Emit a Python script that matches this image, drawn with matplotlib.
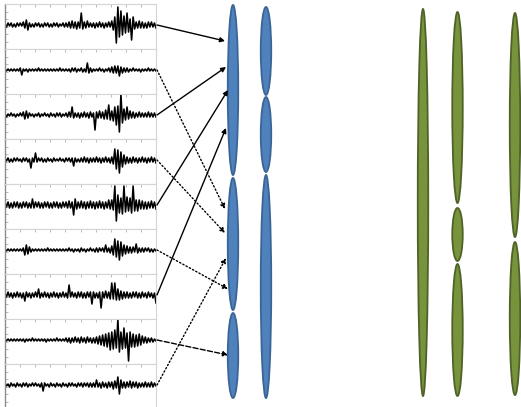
import matplotlib
matplotlib.use("Agg")
import matplotlib.pyplot as plt
from matplotlib.patches import Ellipse
import numpy as np

# ---------------- data: nine noisy traces (pixel-ish amplitudes) ----------------
trace1 = [1,-2,2,-1,2,-2,1,-2,2,-1, 2,-1,3,-3,5,-5,2,-2,1,-2, 2,-1,2,-2,1,-2,2,-1,2,-2,
          1,-2,2,-1,2,-2,1,-1,2,-2, 2,-2,3,-3,4,-3,3,-4,3,-3, 12,-4,3,-3,4,-2,2,-2,2,-3,
          2,-2,3,-2,2,-3,2,-2,3,-2, 4,-5,8,-18,18,-12,14,-10,9,-8, 12,-7,6,-15,8,-4,3,-3,4,-3,
          3,-3,2,-3,3,-2,3,-2,2,-3]
trace2 = [1,-1,1,-1,1,-1,1,-1,1,-1, 2,-5,1,-1,1,-2,1,-1,1,-1, 1,-1,2,-1,1,-1,1,-1,1,-1,
          1,-1,1,-1,1,-1,2,-1,1,-1, 1,-1,1,-2,2,-1,2,-2,1,-1, 2,-2,1,-2,7,-3,2,-2,1,-1,
          1,-1,2,-1,1,-2,1,-1,2,-2, 3,-3,4,-3,4,-6,3,-3,2,-2, 2,-2,1,-1,2,-1,1,-1,1,-2,
          1,-1,1,-1,2,-1,1,-1,1,-1]
trace3 = [1,-2,1,-1,2,-1,1,-2,1,-1, 2,-1,3,-4,4,-3,2,-1,1,-2, 1,-1,2,-2,1,-1,2,-1,1,-2,
          2,-1,1,-2,2,-1,2,-2,1,-1, 2,-2,3,-2,8,-3,2,-2,2,-3, 2,-2,3,-2,2,-3,3,-2,2,-15,
          3,-3,4,-3,3,-4,5,-4,10,-5, 4,-6,8,-10,9,-17,21,-8,6,-5, 8,-4,4,-3,3,-3,2,-2,3,-2,
          2,-2,2,-2,3,-2,2,-2,2,-2]
trace4 = [2,-1,2,-2,1,-2,2,-1,2,-1, 1,-2,2,-1,2,-2,1,-8,2,-2, 7,-2,2,-1,2,-2,1,-2,2,-1,
          1,-2,2,-1,1,-1,2,-1,1,-2, 2,-1,2,-2,2,-6,2,-2,1,-2, 2,-2,3,-2,2,-3,2,-2,2,-2,
          3,-2,2,-3,2,-2,3,-2,2,-3, 3,-4,11,-9,10,-13,8,-7,5,-4, 3,-3,2,-3,3,-2,2,-3,2,-2,
          3,-2,2,-3,2,-2,3,-2,2,-3]
trace5 = [3,-2,3,-3,2,-3,3,-2,3,-3, 2,-3,3,-2,3,-3,2,-3,6,-3, 3,-2,3,-3,2,-3,3,-2,3,-3,
          2,-3,3,-2,3,-3,2,-3,3,-2, 3,-3,4,-3,3,-10,6,-4,3,-3, 4,-3,3,-4,3,-3,4,-3,3,-4,
          3,-3,4,-3,3,-4,3,-3,5,-4, 5,-5,19,-16,10,-8,7,-9,19,-7, 8,-6,7,-8,19,-6,5,-6,5,-4,
          4,-4,3,-4,3,-3,4,-3,3,-4]
trace6 = [1,-1,1,-1,1,-1,1,-1,1,-1, 1,-1,2,-5,5,-4,3,-2,1,-1, 1,-1,1,-1,1,-1,1,-1,2,-1,
          1,-1,1,-1,1,-1,1,-1,1,-1, 1,-1,2,-1,1,-2,1,-1,1,-2, 2,-1,1,-2,1,-1,2,-1,1,-2,
          2,-2,2,-1,2,-2,5,-2,2,-3, 4,-5,11,-7,9,-10,8,-6,5,-4, 4,-3,3,-3,3,-2,6,-3,2,-2,
          2,-2,2,-1,2,-2,1,-2,1,-1]
trace7 = [2,-2,3,-2,2,-3,2,-2,3,-2, 2,-3,2,-6,3,-2,2,-3,2,-2, 3,-2,6,-3,2,-2,3,-2,2,-3,
          2,-2,3,-2,2,-3,2,-2,3,-2, 2,-3,10,-2,3,-2,2,-3,3,-2, 3,-3,2,-3,3,-2,3,-9,3,-3,
          2,-3,3,-13,3,-3,4,-3,3,-4, 12,-4,12,-5,6,-5,4,-4,3,-3, 3,-3,2,-3,3,-2,3,-3,2,-3,
          3,-2,2,-3,3,-2,2,-3,2,-8]
trace8 = [1,-1,1,-1,1,-1,1,-1,1,-1, 1,-1,1,-2,1,-1,1,-1,2,-1, 1,-1,1,-1,1,-1,1,-2,1,-1,
          1,-1,1,-1,2,-1,1,-1,1,-1, 2,-2,2,-3,2,-2,3,-2,2,-3, 3,-2,2,-3,3,-2,2,-3,2,-3,
          3,-4,4,-5,5,-6,6,-7,7,-10, 8,-9,10,-8,21,-12,8,-9,12,-8, 7,-21,8,-7,6,-7,5,-6,6,-5,
          4,-3,3,-3,2,-2,2,-2,1,-1]
trace9 = [2,-1,1,-2,2,-1,1,-2,2,-1, 1,-2,2,-1,2,-2,1,-1,2,-1, 2,-1,1,-2,2,-6,2,-1,1,-2,
          2,-1,1,-2,2,-1,1,-2,2,-1, 1,-2,2,-1,2,-1,1,-2,2,-1, 2,-2,2,-1,2,-2,2,-2,2,-2,
          5,-2,2,-3,3,-2,2,-3,3,-2, 3,-4,4,-3,8,-9,5,-3,3,-3, 3,-2,4,-3,3,-2,3,-3,2,-2,
          2,-2,3,-2,2,-2,3,-2,2,-1]
traces = [trace1, trace2, trace3, trace4, trace5, trace6, trace7, trace8, trace9]

# arrows: source trace index, target point (x, y in pixels), line style
arrow_src = [0, 1, 2, 3, 4, 5, 6, 7, 8]
arrow_tx = [225, 225, 226, 225, 228, 228, 226, 228, 226]
arrow_ty = [41, 209, 67, 233, 90, 289, 128, 355, 258]
arrow_style = ["-", ":", "-", ":", "-", ":", "-", "--", ":"]

# ellipses: column centre x, then (top, bottom) spans in pixels
blue_cols = [(233, [(5, 175), (178, 310), (313, 398)]),
             (266, [(7, 95), (97, 172), (175, 398)])]
green_cols = [(423, [(9, 396)]),
              (457.5, [(12, 203), (208, 261), (264, 396)]),
              (515, [(13, 237), (242, 395)])]

W, H = 521, 407
fig = plt.figure(figsize=(W / 100, H / 100), dpi=100)

panel_left, panel_right = 5, 156
panel_top0, panel_h = 4, 45
light = "#d4d4d4"
dark = "#8c8c8c"

for i, tr in enumerate(traces):
    top = panel_top0 + panel_h * i
    ax = fig.add_axes([panel_left / W, 1 - (top + panel_h) / H,
                       (panel_right - panel_left) / W, panel_h / H])
    y = np.array(tr, dtype=float)
    ax.plot(np.arange(len(y)), y, color="black", lw=1.15)
    ax.set_xlim(0, len(y) - 1)
    ax.set_ylim(-24, 21)
    for s in ["top", "right", "bottom"]:
        ax.spines[s].set_color(light)
        ax.spines[s].set_linewidth(0.8)
    ax.spines["left"].set_color(dark)
    ax.spines["left"].set_linewidth(1.0)
    ax.xaxis.set_ticks_position("top")
    ax.set_xticks(np.linspace(0, len(y) - 1, 11))
    ax.set_yticks(np.linspace(-24, 21, 7))
    ax.tick_params(axis="x", direction="in", length=2, width=0.6, color="#b0b0b0",
                   labeltop=False, labelbottom=False)
    ax.tick_params(axis="y", direction="in", length=2, width=0.6, color="#b0b0b0",
                   labelleft=False)
    ax.set_facecolor("white")

ov = fig.add_axes([0, 0, 1, 1], zorder=10)
ov.set_xlim(0, W)
ov.set_ylim(H, 0)
ov.axis("off")
ov.patch.set_alpha(0)

def draw_cols(cols, face, edge):
    for cx, spans in cols:
        for t, b in spans:
            ov.add_patch(Ellipse((cx, (t + b) / 2), 10.5, b - t, facecolor=face,
                                 edgecolor=edge, lw=1.3))

draw_cols(blue_cols, "#4f81bd", "#3a6595")
draw_cols(green_cols, "#77933c", "#4f6228")

for s, tx, ty, ls in zip(arrow_src, arrow_tx, arrow_ty, arrow_style):
    sy = panel_top0 + panel_h * s + 21
    ov.annotate("", xy=(tx, ty), xytext=(157, sy),
                arrowprops=dict(arrowstyle="-|>", color="black", lw=1.0,
                                linestyle=ls, mutation_scale=7,
                                shrinkA=0, shrinkB=0))

fig.savefig("out.png", dpi=100)
